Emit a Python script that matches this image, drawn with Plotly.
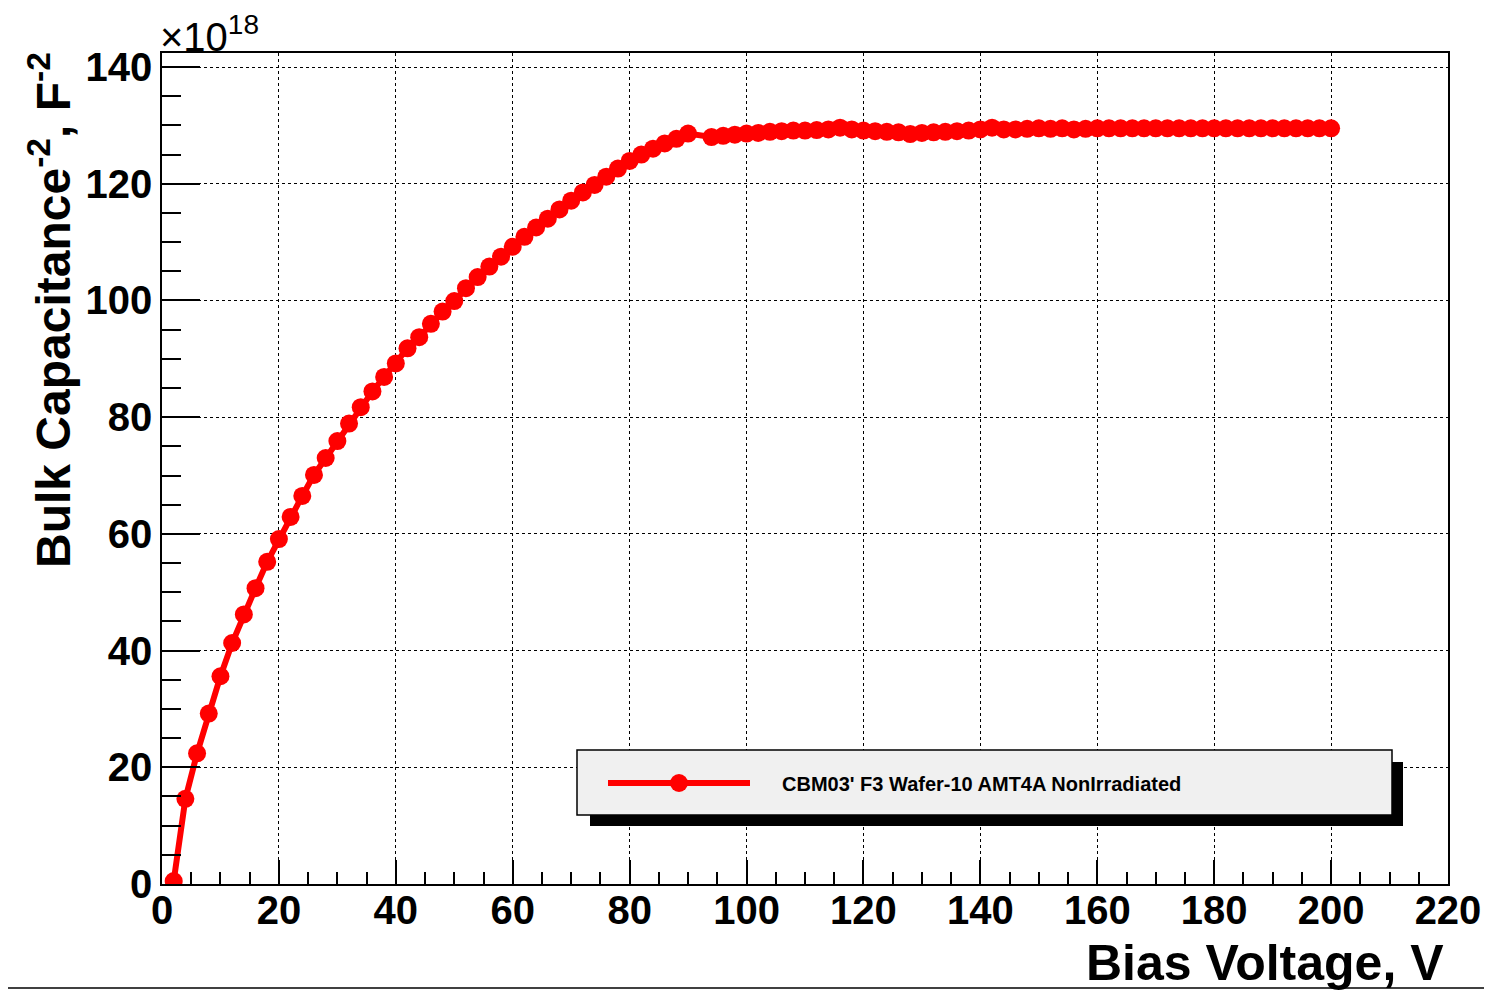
import plotly.graph_objects as go

# bias voltage (V) and 1/C^2 (x1e18 F^-2)
voltage = [2, 4, 6, 8, 10, 12, 14, 16, 18, 20,
           22, 24, 26, 28, 30, 32, 34, 36, 38, 40,
           42, 44, 46, 48, 50, 52, 54, 56, 58, 60,
           62, 64, 66, 68, 70, 72, 74, 76, 78, 80,
           82, 84, 86, 88, 90, 94, 96, 98, 100, 102,
           104, 106, 108, 110, 112, 114, 116, 118, 120, 122,
           124, 126, 128, 130, 132, 134, 136, 138, 140, 142,
           144, 146, 148, 150, 152, 154, 156, 158, 160, 162,
           164, 166, 168, 170, 172, 174, 176, 178, 180, 182,
           184, 186, 188, 190, 192, 194, 196, 198, 200]
inv_c2 = [0.5, 14.6, 22.4, 29.2, 35.6, 41.3, 46.2, 50.7, 55.2, 59.1,
          62.9, 66.5, 70.1, 73.0, 75.9, 78.9, 81.7, 84.4, 86.9, 89.2,
          91.8, 93.7, 96.0, 98.1, 99.9, 102.1, 104.0, 105.8, 107.5, 109.2,
          110.9, 112.5, 114.0, 115.6, 117.1, 118.5, 119.8, 121.2, 122.6, 123.9,
          125.0, 126.0, 126.9, 127.7, 128.6, 128.0, 128.2, 128.4, 128.6, 128.7,
          128.9, 129.0, 129.1, 129.1, 129.2, 129.3, 129.6, 129.3, 129.1, 129.0,
          128.9, 128.8, 128.5, 128.7, 128.8, 128.9, 129.0, 129.1, 129.3, 129.6,
          129.3, 129.3, 129.4, 129.5, 129.4, 129.5, 129.3, 129.4, 129.5, 129.5,
          129.5, 129.5, 129.5, 129.5, 129.5, 129.5, 129.5, 129.5, 129.5, 129.5,
          129.5, 129.5, 129.5, 129.5, 129.5, 129.5, 129.5, 129.5, 129.5]

series_name = "CBM03' F3 Wafer-10 AMT4A NonIrradiated"
x_title = "Bias Voltage, V"
y_title = "Bulk Capacitance<sup>-2</sup>, F<sup>-2</sup>"
y_exponent = "\u00d710<sup>18</sup>"

FONT = "Liberation Sans"
RED = "#ff0000"

fig = go.Figure()
fig.add_trace(go.Scatter(
    x=voltage, y=inv_c2, mode="lines+markers", name=series_name,
    line=dict(color=RED, width=6),
    marker=dict(color=RED, size=18, symbol="circle"),
    showlegend=False,
))

axis_common = dict(
    showline=True, linecolor="black", linewidth=1.5, mirror=True,
    showgrid=True, gridcolor="black", gridwidth=1, griddash="dot",
    zeroline=False, ticks="inside", tickcolor="black", tickwidth=1.5,
    tickfont=dict(family=FONT, size=40, color="black", weight="bold"),
)
fig.update_xaxes(range=[0, 220], dtick=20, tick0=0, ticklen=24, ticklabelstandoff=-10,
                 minor=dict(dtick=5, ticks="inside", ticklen=12, tickcolor="black", showgrid=False),
                 **axis_common)
fig.update_yaxes(range=[0, 142.4], dtick=20, tick0=0, ticklen=38,
                 minor=dict(dtick=5, ticks="inside", ticklen=19, tickcolor="black", showgrid=False),
                 **axis_common)

# hand-made ROOT style legend box with drop shadow (page pixels -> paper)
pw, ph = 1286.0, 831.0
def px(xp):
    return (xp - 162) / pw
def py(yp):
    return (884 - yp) / ph

shapes = [
    dict(type="rect", xref="paper", yref="paper", x0=px(590), x1=px(1403), y0=py(762), y1=py(826),
         fillcolor="black", line=dict(width=0), layer="above"),
    dict(type="rect", xref="paper", yref="paper", x0=px(577), x1=px(1392), y0=py(750), y1=py(815),
         fillcolor="#f0f0f0", line=dict(color="black", width=1.5), layer="above"),
    dict(type="line", xref="paper", yref="paper", x0=px(608), x1=px(750), y0=py(783), y1=py(783),
         line=dict(color=RED, width=6), layer="above"),
    dict(type="circle", xref="paper", yref="paper", x0=px(670), x1=px(688), y0=py(774), y1=py(792),
         fillcolor=RED, line=dict(width=0), layer="above"),
    dict(type="line", xref="paper", yref="paper", x0=px(-10), x1=px(1500), y0=py(988), y1=py(988),
         line=dict(color="black", width=1.5)),
]

annotations = [
    dict(text=series_name, xref="paper", yref="paper", x=px(780), y=py(784),
         xanchor="left", yanchor="middle", showarrow=False,
         font=dict(family=FONT, size=20, color="black", weight="bold")),
    dict(text=x_title, xref="paper", yref="paper", x=px(1446), y=py(963),
         xanchor="right", yanchor="middle", showarrow=False,
         font=dict(family=FONT, size=50, color="black", weight="bold")),
    dict(text=y_title, xref="paper", yref="paper", x=px(50), y=py(50),
         xanchor="center", yanchor="top", textangle=-90, showarrow=False,
         font=dict(family=FONT, size=48, color="black", weight="bold")),
    dict(text=y_exponent, xref="paper", yref="paper", x=px(158), y=py(34),
         xanchor="left", yanchor="middle", showarrow=False,
         font=dict(family=FONT, size=40, color="black")),
]

# the page body adds an 8px offset, so margins are shifted to land the frame at 162..1448 x 53..884
fig.update_layout(
    width=1492, height=990,
    margin=dict(l=154, r=52, t=45, b=114),
    paper_bgcolor="white", plot_bgcolor="white",
    shapes=shapes, annotations=annotations,
    showlegend=False,
)

fig.write_html("out.html")
